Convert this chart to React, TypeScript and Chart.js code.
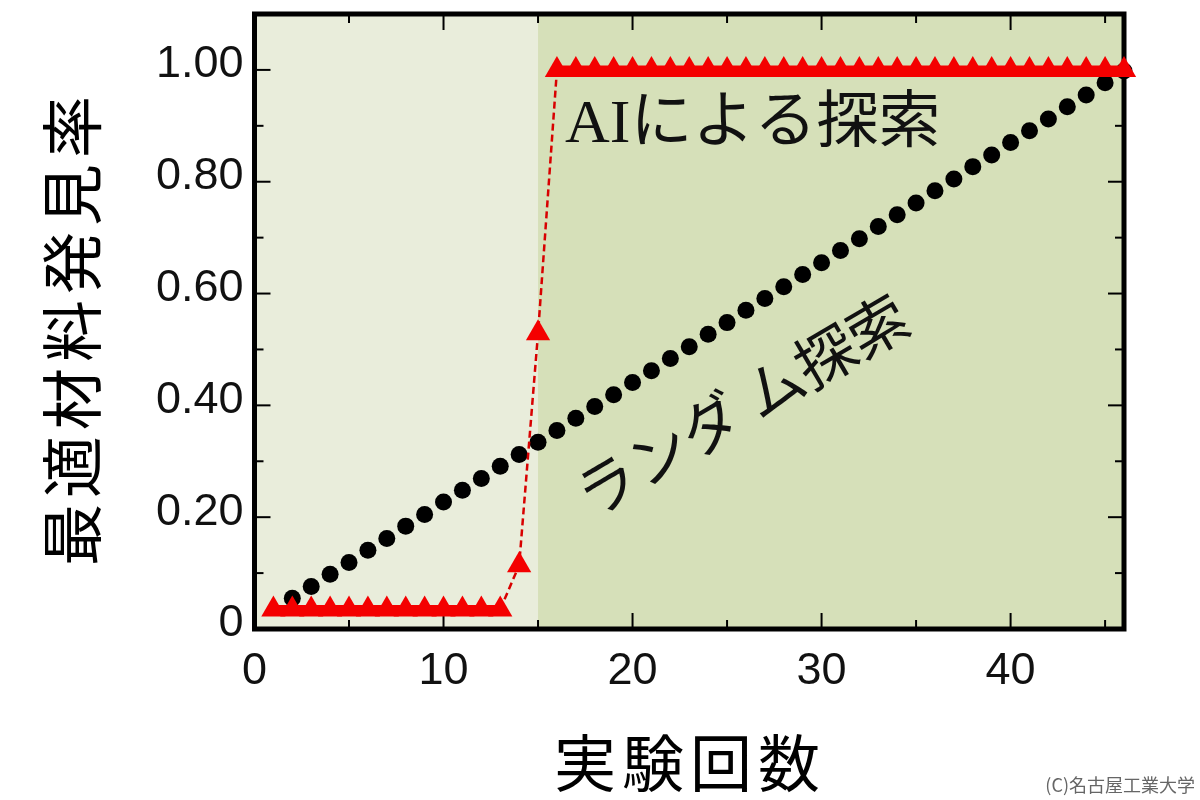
import React, { useEffect, useRef } from "react";
import { Chart, registerables } from "chart.js";

Chart.register(...registerables);

// ---- data ----
const trials = [
  1, 2, 3, 4, 5, 6, 7, 8, 9, 10, 11, 12, 13, 14, 15, 16, 17, 18, 19, 20, 21, 22, 23,
  24, 25, 26, 27, 28, 29, 30, 31, 32, 33, 34, 35, 36, 37, 38, 39, 40, 41, 42, 43, 44,
  45, 46,
];
const randomSearch = [
  null, 0.055, 0.076, 0.098, 0.119, 0.141, 0.162, 0.184, 0.205, 0.227, 0.248, 0.269,
  0.291, 0.312, 0.334, 0.355, 0.377, 0.398, 0.419, 0.441, 0.462, 0.484, 0.505, 0.527,
  0.548, 0.57, 0.591, 0.612, 0.634, 0.655, 0.677, 0.698, 0.72, 0.741, 0.762, 0.784,
  0.805, 0.827, 0.848, 0.87, 0.891, 0.912, 0.934, 0.955, 0.977, 0.998,
];
const aiSearch = [
  0.035, 0.035, 0.035, 0.035, 0.035, 0.035, 0.035, 0.035, 0.035, 0.035, 0.035, 0.035,
  0.035, 0.114, 0.529, 1.0, 1.0, 1.0, 1.0, 1.0, 1.0, 1.0, 1.0, 1.0, 1.0, 1.0, 1.0, 1.0,
  1.0, 1.0, 1.0, 1.0, 1.0, 1.0, 1.0, 1.0, 1.0, 1.0, 1.0, 1.0, 1.0, 1.0, 1.0, 1.0, 1.0,
  1.0,
];
const xTickValues = [0, 10, 20, 30, 40];
const xMinorTicks = [5, 15, 25, 35, 45];
const yTickValues = [0, 0.2, 0.4, 0.6, 0.8, 1.0];
const yMinorTicks = [0.1, 0.3, 0.5, 0.7, 0.9];
const aiPhaseStart = 15;
const xTitle = "実験回数";
const yTitle = "最適材料発見率";
const aiLabel = "AIによる探索";
const randomLabel = "ランダ ム探索";
const credit = "(C)名古屋工業大学";

const JP = '"Noto Sans CJK JP", "Noto Sans", sans-serif';
const NUM = '"Liberation Sans", Arial, sans-serif';

const decor = {
  id: "decor",
  beforeDatasetsDraw(chart: any) {
    const { ctx, chartArea: a, scales } = chart;
    const x = scales.x;
    const y = scales.y;
    const split = x.getPixelForValue(aiPhaseStart);
    ctx.save();
    // backgrounds
    ctx.fillStyle = "#e9eddb";
    ctx.fillRect(a.left, a.top, split - a.left, a.bottom - a.top);
    ctx.fillStyle = "#d6e0b9";
    ctx.fillRect(split, a.top, a.right - split, a.bottom - a.top);

    // inward ticks on all sides
    ctx.strokeStyle = "#000";
    ctx.lineWidth = 2;
    const tick = (x1: number, y1: number, x2: number, y2: number) => {
      ctx.beginPath();
      ctx.moveTo(x1, y1);
      ctx.lineTo(x2, y2);
      ctx.stroke();
    };
    const MAJ = 16;
    const MIN = 9;
    xTickValues.forEach((v) => {
      const px = x.getPixelForValue(v);
      tick(px, a.bottom, px, a.bottom - MAJ);
      tick(px, a.top, px, a.top + MAJ);
    });
    xMinorTicks.forEach((v) => {
      const px = x.getPixelForValue(v);
      tick(px, a.bottom, px, a.bottom - MIN);
      tick(px, a.top, px, a.top + MIN);
    });
    yTickValues.forEach((v) => {
      const py = y.getPixelForValue(v);
      tick(a.left, py, a.left + MAJ, py);
      tick(a.right, py, a.right - MAJ, py);
    });
    yMinorTicks.forEach((v) => {
      const py = y.getPixelForValue(v);
      tick(a.left, py, a.left + MIN, py);
      tick(a.right, py, a.right - MIN, py);
    });

    // frame
    ctx.lineWidth = 5;
    ctx.strokeRect(a.left, a.top, a.right - a.left, a.bottom - a.top);

    // annotations
    ctx.fillStyle = "#111";
    ctx.textBaseline = "middle";
    ctx.textAlign = "left";
    ctx.font = `62px "Liberation Serif", ${JP}`;
    ctx.fillText(aiLabel, 565, 126);

    ctx.save();
    ctx.translate(742, 405);
    ctx.rotate((-30.5 * Math.PI) / 180);
    ctx.textAlign = "center";
    ctx.font = `60px ${JP}`;
    ctx.fillText(randomLabel, 0, 0);
    ctx.restore();

    // axis titles
    ctx.fillStyle = "#000";
    ctx.textAlign = "center";
    ctx.font = `62px ${JP}`;
    try { (ctx as any).letterSpacing = "6px"; } catch (e) {}
    ctx.fillText(xTitle, 690, 763);
    ctx.save();
    ctx.translate(72, 328);
    ctx.rotate(-Math.PI / 2);
    ctx.fillText(yTitle, 0, 0);
    ctx.restore();
    try { (ctx as any).letterSpacing = "0px"; } catch (e) {}

    // credit
    ctx.fillStyle = "#666";
    ctx.textAlign = "right";
    ctx.font = `18px ${JP}`;
    ctx.fillText(credit, 1195, 785);
    ctx.restore();
  },
};

const isFlat = (c: any) => c.p0.parsed.y === c.p1.parsed.y;

export default function App() {
  const ref = useRef<HTMLCanvasElement | null>(null);
  useEffect(() => {
    if (!ref.current) return;
    const chart = new Chart(ref.current, {
      type: "line",
      data: {
        datasets: [
          {
            label: "AI",
            data: trials.map((t, i) => ({ x: t, y: aiSearch[i] })),
            showLine: true,
            borderColor: "#d80000",
            borderWidth: 2.5,
            borderDash: [7, 4],
            segment: {
              borderWidth: (c: any) => (isFlat(c) ? 9 : 2.5),
              borderDash: (c: any) => (isFlat(c) ? [] : [7, 4]),
              borderColor: (c: any) => (isFlat(c) ? "#f40000" : "#d80000"),
            },
            pointStyle: "triangle",
            pointRadius: 14,
            pointBackgroundColor: "#f40000",
            pointBorderWidth: 0,
            pointBorderColor: "#f40000",
            clip: false,
            order: 0,
          },
          {
            label: "Random",
            data: trials.map((t, i) => ({ x: t, y: randomSearch[i] })),
            showLine: false,
            pointStyle: "circle",
            pointRadius: 8.5,
            pointBackgroundColor: "#000",
            pointBorderWidth: 0,
            clip: false,
            order: 1,
          },
        ],
      } as any,
      options: {
        animation: false,
        responsive: false,
        maintainAspectRatio: false,
        layout: { padding: { top: 13.5, right: 76, left: 0, bottom: 0 } },
        plugins: { legend: { display: false }, tooltip: { enabled: false } },
        scales: {
          x: {
            type: "linear",
            min: 0,
            max: 46,
            afterBuildTicks: (s: any) => {
              s.ticks = xTickValues.map((v) => ({ value: v }));
            },
            afterFit: (s: any) => {
              s.height = 171;
              s.paddingLeft = 0;
              s.paddingRight = 0;
            },
            grid: { display: false, drawTicks: false },
            border: { display: false },
            ticks: {
              font: { family: NUM, size: 45 },
              color: "#111",
              padding: 16,
              maxRotation: 0,
              autoSkip: false,
              callback: (v: any) => String(v),
            },
          },
          y: {
            type: "linear",
            min: 0,
            max: 1.1,
            afterBuildTicks: (s: any) => {
              s.ticks = yTickValues.map((v) => ({ value: v }));
            },
            afterFit: (s: any) => {
              s.width = 254.5;
              s.paddingTop = 0;
              s.paddingBottom = 0;
            },
            grid: { display: false, drawTicks: false },
            border: { display: false },
            ticks: {
              font: { family: NUM, size: 45 },
              color: "#111",
              padding: 11,
              labelOffset: -5,
              autoSkip: false,
              callback: (v: any) => (Number(v) === 0 ? "0" : Number(v).toFixed(2)),
            },
          },
        },
      } as any,
      plugins: [decor as any],
    });
    return () => chart.destroy();
  }, []);
  return (
    <div style={{ position: "fixed", left: 0, top: 0, width: 1200, height: 800, background: "#fff" }}>
      <canvas ref={ref} width={1200} height={800} style={{ width: 1200, height: 800 }} />
    </div>
  );
}
